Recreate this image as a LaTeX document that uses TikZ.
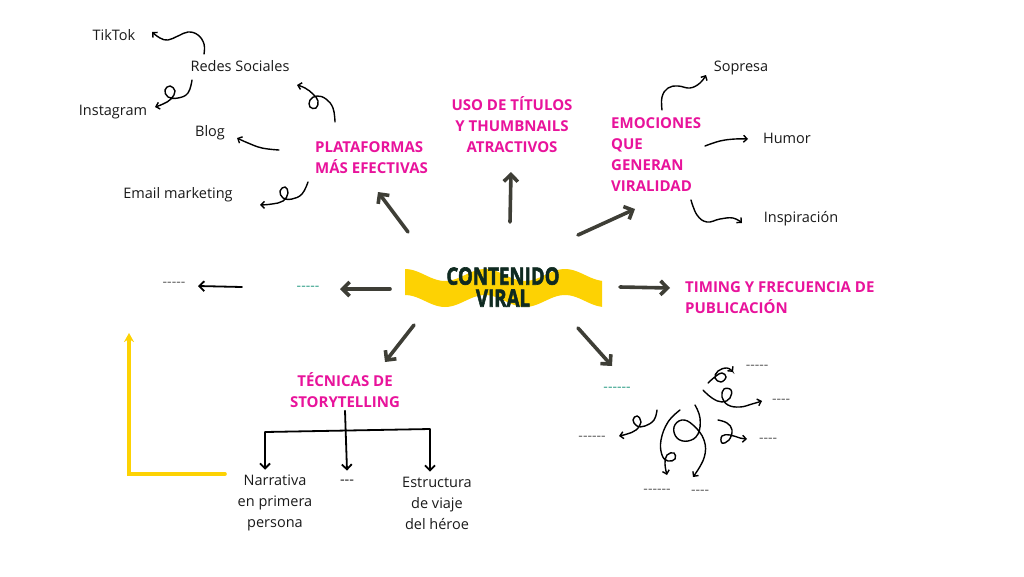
\documentclass[tikz,border=0pt]{standalone}
\usepackage{fontspec}
\setmainfont{Open Sans}[Ligatures=TeXOff]
\newfontfamily\headfont{Open Sans}[Ligatures=TeXOff, BoldFeatures={FakeBold=2.5}]
\usetikzlibrary{arrows.meta}
\definecolor{vpink}{HTML}{E8139B}
\definecolor{vgrey}{HTML}{3E3E36}
\definecolor{vyellow}{HTML}{FDD203}
\definecolor{vgreen}{HTML}{2E9E86}
\definecolor{vdark}{HTML}{0F2A21}
\begin{document}
\begin{tikzpicture}[x=1pt,y=-1pt,
    leaf/.style={font=\fontsize{14.5}{21}\selectfont, text=black!90, inner sep=1pt, align=center},
    pinkhead/.style={font=\bfseries\fontsize{15}{21}\selectfont, text=vpink, inner sep=1pt},
    dashtxt/.style={font=\fontsize{14}{14}\selectfont, text=black!65, inner sep=1pt},
    bigarrow/.style={vgrey, line width=3.6pt, line cap=round, -{Straight Barb[length=7pt,width=14pt]}},
    thinarrow/.style={black, line width=1.8pt, line cap=round, -{Straight Barb[length=5pt,width=10pt]}},
    curl/.style={black, line width=1.4pt, line cap=round, -{Straight Barb[length=3.5pt,width=7pt]}}]
  \useasboundingbox (0,0) rectangle (1024,576);
  % yellow wave behind the title
  \fill[vyellow] plot[domain=405:602, samples=80] (\x,{275-6*cos(4.5*(\x-405))})
      -- plot[domain=602:405, samples=80] (\x,{301-6*cos(4.5*(\x-405))}) -- cycle;
  \node[font=\headfont\bfseries\fontsize{24}{22}\selectfont, text=vdark, align=center, inner sep=0pt]
      (viral) at (503,287) {\scalebox{.78}[1]{CONTENIDO}\\\scalebox{.78}[1]{VIRAL}};
  % main branches
  \node[pinkhead, anchor=west, align=left] (plat) at (314,157.5) {PLATAFORMAS\\MÁS EFECTIVAS};
  \node[pinkhead, align=center] (uso) at (512,125) {USO DE TÍTULOS\\Y THUMBNAILS\\ATRACTIVOS};
  \node[pinkhead, anchor=west, align=left] (emoc) at (610,154.5) {EMOCIONES\\QUE\\GENERAN\\VIRALIDAD};
  \node[pinkhead, anchor=west, align=left] (timing) at (684,297.5) {TIMING Y FRECUENCIA DE\\PUBLICACIÓN};
  \node[pinkhead, align=center] (tecn) at (345,390) {TÉCNICAS DE\\STORYTELLING};
  \node[dashtxt, text=vgreen] (greenL) at (308,288) {-----};
  \node[dashtxt, text=vgreen] (greenR) at (617,389) {------};
  % leaves
  \node[leaf] (tiktok) at (114,35) {TikTok};
  \node[leaf] (redes) at (240,66) {Redes Sociales};
  \node[leaf] (insta) at (113,112) {Instagram};
  \node[leaf] (blog) at (210,133) {Blog};
  \node[leaf] (email) at (178,195) {Email marketing};
  \node[leaf] (sopresa) at (741,68) {Sopresa};
  \node[leaf] (humor) at (787,138) {Humor};
  \node[leaf] (inspir) at (801,219) {Inspiración};
  \node[leaf] (narr) at (275,503) {Narrativa\\en primera\\persona};
  \node[leaf] (dash3) at (347,482) {---};
  \node[leaf] (estr) at (437,503) {Estructura\\de viaje\\del héroe};
  \node[dashtxt] (dashL) at (174,284) {-----};
  \node[dashtxt] (d1) at (757,367) {-----};
  \node[dashtxt] (d2) at (781,401) {----};
  \node[dashtxt] (d3) at (592,438) {------};
  \node[dashtxt] (d4) at (768,440) {----};
  \node[dashtxt] (d5) at (657,491) {------};
  \node[dashtxt] (d6) at (700,492) {----};
  % thick arrows out of the centre
  \draw[bigarrow] ([shift={(-95,-55)}]viral.center) -- ([shift={(64,34.5)}]plat.west);
  \draw[bigarrow] ([shift={(7,-65)}]viral.center) -- ([shift={(-1,47)}]uso.center);
  \draw[bigarrow] ([shift={(75,-52)}]viral.center) -- ([shift={(25,54.5)}]emoc.west);
  \draw[bigarrow] ([shift={(117,0)}]viral.center) -- ([shift={(-14,-9.5)}]timing.west);
  \draw[bigarrow] ([shift={(-113,2)}]viral.center) -- ([shift={(32,1)}]greenL.center);
  \draw[bigarrow] ([shift={(-89,38)}]viral.center) -- ([shift={(40,-28)}]tecn.center);
  \draw[bigarrow] ([shift={(75,41)}]viral.center) -- ([shift={(-5,-23)}]greenR.center);
  \draw[thinarrow] ([shift={(-66,-1)}]greenL.center) -- ([shift={(24,2)}]dashL.center);
  % yellow return arrow
  \draw[vyellow, line width=3.6pt, line cap=round, -{Stealth[length=9pt,width=10pt]}]
      ([shift={(-50,-29)}]narr.center) -| ([shift={(-45,49)}]dashL.center);
  % storytelling tree
  \coordinate (barL) at (265,432);
  \coordinate (barR) at (430,429);
  \draw[black, line width=1.8pt] (barL) -- (barR);
  \draw[thinarrow] ([yshift=-2pt]tecn.south) -- ([yshift=8pt]dash3.north);
  \draw[thinarrow] (barL) -- ([yshift=4pt]barL |- narr.north);
  \draw[thinarrow] (barR) -- ([yshift=4pt]barR |- estr.north);
  % curly arrows, left
  \draw[curl] plot[smooth, tension=0.7] coordinates {([shift={(-36,-12)}]redes.center)
      (204,44) (198,35) (188,32) (178,36) (168,40) (160,38) ([shift={(38,-3)}]tiktok.center)};
  \draw[curl] plot[smooth, tension=0.7] coordinates {([shift={(-48,14)}]redes.center)
      (188,93) (178,98) (168,97) (165,90) (170,86) (175,91) (171,99) (163,104) ([shift={(42,-5)}]insta.center)};
  \draw[curl] plot[smooth, tension=0.7] coordinates {([shift={(21,-35.5)}]plat.west)
      (333,108) (326,99) (317,96) (310,100) (310,107) (316,108) (318,101) (313,94) (305,88) ([shift={(57,19)}]redes.center)};
  \draw[curl] plot[smooth, tension=0.7] coordinates {([shift={(-35,-7.5)}]plat.west)
      (262,148) (248,143) ([shift={(27,5)}]blog.center)};
  \draw[curl] plot[smooth, tension=0.7] coordinates {([shift={(-6,24.5)}]plat.west)
      (302,194) (292,199) (283,198) (280,191) (285,187) (288,193) (283,201) (272,204) ([shift={(82,10)}]email.center)};
  % curly arrows, right
  \draw[curl] plot[smooth, tension=0.7] coordinates {([shift={(52,-44.5)}]emoc.west)
      (662,97) (668,88) (678,86) (690,88) (700,83) ([shift={(-35,7)}]sopresa.center)};
  \draw[curl] plot[smooth, tension=0.7] coordinates {([shift={(95,-8.5)}]emoc.west)
      (720,141) (735,139) ([shift={(-39,1)}]humor.center)};
  \draw[curl] plot[smooth, tension=0.7] coordinates {([shift={(81,45.5)}]emoc.west)
      (697,215) (707,222) (720,219) (733,218) ([shift={(-59,4)}]inspir.center)};
  % curly arrows, lower right
  \draw[curl] plot[smooth, tension=0.7] coordinates {([shift={(91,-6)}]greenR.center)
      (716,376) (722,373) (726,377) (721,382) (715,378) (718,371) (727,368) ([shift={(-24,5)}]d1.center)};
  \draw[curl] plot[smooth, tension=0.7] coordinates {([shift={(86,1)}]greenR.center)
      (712,398) (722,402) (730,398) (731,390) (724,389) (722,397) (728,405) (740,407) (752,404) ([shift={(-19,0)}]d2.center)};
  \draw[curl] plot[smooth, tension=0.7] coordinates {([shift={(40,21)}]greenR.center)
      (654,420) (645,426) (637,426) (633,420) (637,416) (641,422) (636,430) (627,434) ([shift={(27,-2)}]d3.center)};
  \draw[curl] plot[smooth, tension=0.7] coordinates {([shift={(101,31)}]greenR.center)
      (727,423) (732,430) (729,440) (722,443) (722,436) (730,435) (740,438) ([shift={(-21,-1)}]d4.center)};
  \draw[curl] plot[smooth, tension=0.7] coordinates {([shift={(63,21)}]greenR.center)
      (668,422) (661,440) (662,455) (668,461) (675,459) (674,453) (667,455) (665,464) ([shift={(10,-16)}]d5.center)};
  \draw[curl] plot[smooth, tension=0.7] coordinates {([shift={(78,16)}]greenR.center)
      (700,418) (698,434) (688,441) (677,438) (674,427) (682,420) (693,425) (704,440) (704,458) ([shift={(-7,-15)}]d6.center)};
\end{tikzpicture}
\end{document}
